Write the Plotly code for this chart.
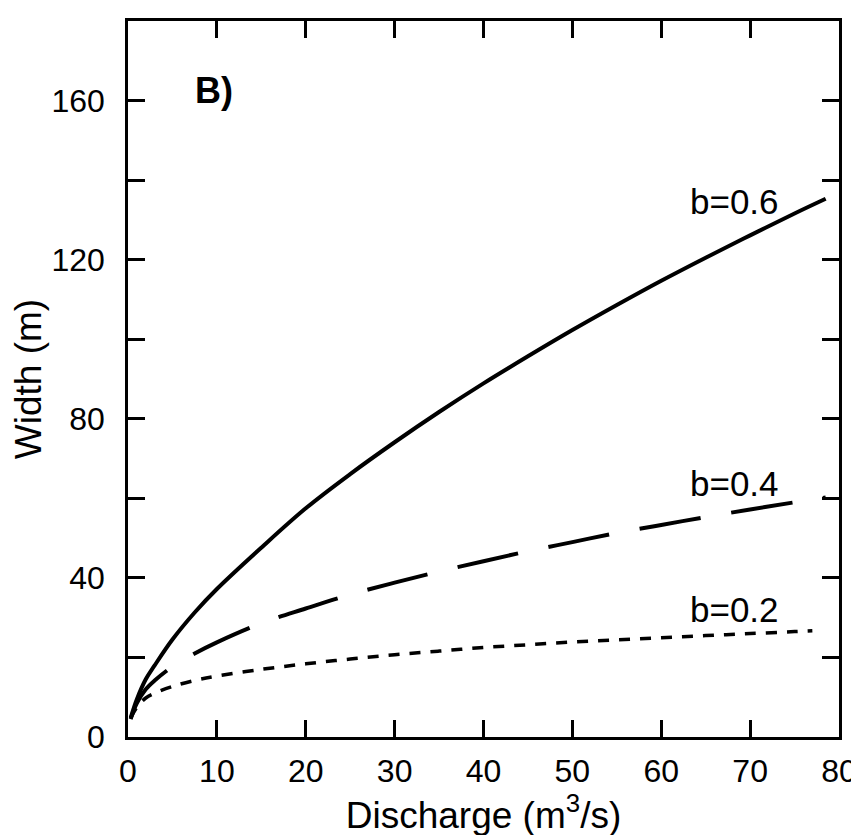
import plotly.graph_objects as go

# Discharge (m^3/s)
discharge = [0.3, 1, 2, 3, 5, 7.5, 10, 15, 20, 25, 30, 35, 40, 45, 50, 55, 60, 65, 70, 75, 78.5]
discharge_b02 = [0.3, 1, 2, 3, 5, 7.5, 10, 15, 20, 25, 30, 35, 40, 45, 50, 55, 60, 65, 70, 75, 77]

# Width (m)
width_b06 = [4.8, 9.5, 14.5, 18, 24.5, 31.3, 37.2, 47.6, 57.5, 66.1, 74.1, 81.7, 88.9, 95.7, 102.3, 108.6, 114.7, 120.5, 126.1, 131.6, 135.3]
width_b04 = [4.5, 8.5, 12, 14.2, 17.7, 21, 23.8, 28.6, 32.3, 35.8, 38.8, 41.6, 44.2, 46.7, 49, 51.3, 53.3, 55.3, 57.2, 59, 60.2]
width_b02 = [4.8, 7.5, 9.8, 11, 12.7, 14.2, 15.3, 17, 18.4, 19.6, 20.7, 21.6, 22.5, 23.2, 23.9, 24.4, 24.95, 25.5, 26.0, 26.5, 26.7]

series_labels = ["b=0.6", "b=0.4", "b=0.2"]
label_pos_x = [68.2, 68.2, 68.2]
label_pos_y = [134.5, 63.7, 32]

x_ticks = [0, 10, 20, 30, 40, 50, 60, 70, 80]
y_ticks = [0, 40, 80, 120, 160]
y_minor_ticks = [20, 60, 100, 140]

FONT = "Arial, Liberation Sans, sans-serif"

fig = go.Figure()
fig.add_trace(go.Scatter(x=discharge, y=width_b06, mode="lines",
                         line=dict(color="black", width=4, shape="spline"),
                         showlegend=False, hoverinfo="skip"))
fig.add_trace(go.Scatter(x=discharge, y=width_b04, mode="lines",
                         line=dict(color="black", width=4, dash="62px,31px", shape="spline"),
                         showlegend=False, hoverinfo="skip"))
fig.add_trace(go.Scatter(x=discharge_b02, y=width_b02, mode="lines",
                         line=dict(color="black", width=3.5, dash="11px,10px", shape="spline"),
                         showlegend=False, hoverinfo="skip"))

for t, xx, yy in zip(series_labels, label_pos_x, label_pos_y):
    fig.add_annotation(x=xx, y=yy, text=t, showarrow=False,
                       font=dict(family=FONT, size=35, color="black"),
                       xanchor="center", yanchor="middle")

fig.add_annotation(x=9.7, y=162.6, text="<b>B)</b>", showarrow=False,
                   font=dict(family=FONT, size=36, color="black"),
                   xanchor="center", yanchor="middle")

axis_common = dict(
    showgrid=False, zeroline=False, showline=True, linecolor="black", linewidth=2.5,
    mirror="allticks", ticks="inside", ticklen=17, tickwidth=2.5, tickcolor="black",
    tickfont=dict(family=FONT, size=32, color="black"),
)

fig.update_xaxes(range=[0, 80], tickmode="array", tickvals=x_ticks,
                 title=dict(text="Discharge (m<sup>3</sup>/s)", font=dict(family=FONT, size=37, color="black"),
                            standoff=4),
                 ticklabelstandoff=4, **axis_common)
fig.update_yaxes(range=[0, 180], tickmode="array", tickvals=y_ticks,
                 minor=dict(tickmode="array", tickvals=y_minor_ticks, ticks="inside",
                            ticklen=17, tickwidth=2.5, tickcolor="black"),
                 title=dict(text="Width (m)", font=dict(family=FONT, size=37, color="black"),
                            standoff=2),
                 ticklabelstandoff=14, **axis_common)

fig.update_layout(
    width=859, height=835,
    margin=dict(l=120, r=20, t=10, b=106),
    plot_bgcolor="white", paper_bgcolor="white",
    font=dict(family=FONT, color="black"),
)

fig.write_html("out.html")
